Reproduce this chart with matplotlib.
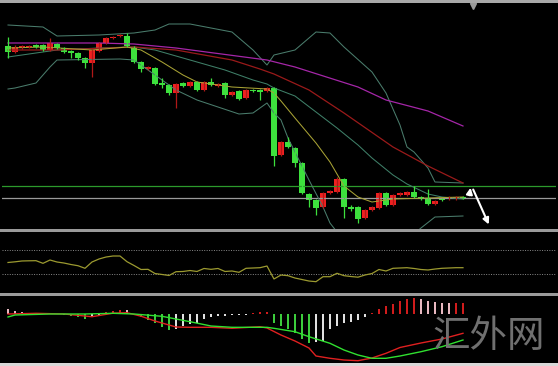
import numpy as np
import matplotlib
matplotlib.use("Agg")
import matplotlib.pyplot as plt

# candles (price in chart points, higher = up)
opens = [194, 188, 192, 193, 195, 195, 190, 196, 192, 189, 187, 182, 177, 189, 197, 202, 204, 204, 193, 178,
         171, 172, 157, 155, 147, 157, 154, 158, 150, 158, 154, 157, 145, 149, 142, 150, 150, 149, 152, 85,
         98, 92, 77, 46, 40, 33, 47, 48, 61, 33, 33, 22, 30, 32, 47, 35, 45, 45, 48, 43,
         42, 36, 41, 41, 41, 43]
highs = [203, 195, 195, 195, 196, 196, 202, 197, 193, 190, 188, 183, 191, 198, 203, 204, 206, 207, 194, 179,
         174, 173, 162, 156, 157, 158, 159, 159, 159, 162, 157, 158, 149, 150, 151, 151, 151, 153, 153, 99,
         103, 93, 78, 47, 41, 48, 50, 63, 62, 35, 34, 31, 34, 48, 48, 46, 48, 49, 54, 44,
         51, 40, 42, 44, 44, 44]
lows = [182, 187, 191, 192, 192, 189, 189, 191, 187, 182, 180, 172, 163, 188, 196, 201, 203, 193, 177, 168,
        170, 155, 152, 145, 132, 153, 153, 149, 149, 154, 153, 142, 144, 140, 141, 148, 140, 148, 74, 84,
        92, 73, 46, 33, 25, 32, 46, 47, 22, 29, 17, 21, 29, 31, 34, 34, 44, 44, 42, 40,
        35, 35, 39, 40, 40, 41]
closes = [188, 193, 194, 194, 193, 190, 197, 192, 188, 187, 182, 177, 190, 197, 202, 203, 205, 194, 178, 171,
          173, 156, 155, 147, 156, 154, 158, 150, 158, 155, 156, 145, 148, 141, 150, 149, 148, 152, 84, 98,
          93, 77, 47, 40, 32, 47, 49, 61, 33, 31, 21, 30, 33, 47, 35, 45, 47, 48, 43, 41,
          36, 39, 40, 43, 43, 42]

# bollinger bands and moving averages, read at some candles
bb_up_idx = [0, 5, 7, 13, 18, 21, 23, 26, 32, 35, 37, 38, 41, 44, 46, 48, 52, 54, 56, 57, 58, 60, 61, 65]
bb_up = [215, 213, 204, 205, 207, 210, 216, 216, 208, 190, 175, 185, 190, 208, 207, 193, 168, 147, 115, 93, 88, 72, 58, 57]
bb_lo_idx = [0, 1, 4, 6, 7, 16, 18, 24, 27, 33, 35, 37, 38, 39, 40, 43, 45, 46, 47, 50, 54, 58, 59, 61, 65]
bb_lo = [151, 152, 157, 173, 180, 181, 180, 150, 140, 126, 127, 137, 127, 120, 102, 60, 33, 17, 8, -5, -5, 6, 12, 23, 24]
bb_mid_idx = [0, 7, 13, 18, 21, 24, 27, 31, 35, 37, 38, 41, 44, 47, 50, 52, 55, 57, 60, 62, 65]
bb_mid = [183, 190, 192, 193, 190, 184, 178, 170, 160, 156, 152, 144, 128, 112, 95, 82, 65, 56, 46, 43, 41]
ma_fast_idx = [0, 5, 12, 17, 19, 22, 25, 27, 32, 37, 38, 39, 41, 44, 46, 48, 50, 52, 55, 60, 65]
ma_fast = [192, 193, 190, 193, 190, 178, 165, 158, 153, 151, 147, 139, 122, 97, 78, 54, 43, 38, 41, 42, 43]
ma_mid_idx = [0, 7, 18, 24, 32, 36, 38, 43, 48, 55, 60, 65]
ma_mid = [190, 190, 193, 190, 180, 171, 166, 150, 127, 93, 74, 57]
ma_slow_idx = [0, 13, 18, 24, 37, 41, 50, 54, 60, 65]
ma_slow = [197, 197, 196, 192, 180, 173, 153, 140, 129, 114]
level_green = 54.5
level_gray = 41.7

# rsi
rsi = [49.2, 50.3, 51.7, 52, 52.2, 47.8, 53.3, 50, 48.3, 45.8, 43.8, 39.5, 50, 55, 58.3, 60, 60, 50.5, 44.2, 37.5,
       37.8, 30.8, 29.2, 27.5, 33.8, 34.2, 35.8, 34.2, 39.2, 37.8, 39.2, 34.2, 35, 32.8, 39.5, 40, 40.5, 43.3, 21.7, 28.3,
       27.2, 23.3, 20.8, 18.3, 17.2, 25.5, 25.5, 31.2, 27.2, 25.8, 24.7, 28.3, 30.8, 37.5, 35, 39.5, 40, 40.5, 39.2, 37.5,
       36.7, 38.3, 39.5, 40, 40.5, 40.5]
rsi_levels = [30, 70]

# macd
macd_hist = [5, 3.5, 2.5, 1.5, 0.8, 0.5, 0.5, 0.3, -0.5, -2, -2.5, -5, -3, -0.5, 2, 3, 4.5, 4, 0.5, -2.5,
             -6, -9, -13, -16, -15, -12, -10, -9, -5, -3, -2, -1.5, -1.2, -1, -0.8, 1, 2, 2, -9, -12,
             -15, -19, -25, -29, -28, -27, -15, -12, -9, -7.5, -6, -2.5, 1, 5.5, 8, 10.5, 13, 15, 16, 15.5,
             13, 12.5, 11.5, 11, 11, 11]
macd_idx = [0, 4, 8, 12, 15, 17, 19, 21, 24, 26, 29, 32, 36, 37, 39, 41, 43, 44, 46, 48, 50, 52, 54, 56, 59, 62, 65]
macd_line = [0, 0.7, 0, -2.7, 0.8, 1.3, -2.2, -7, -13, -13.3, -13.3, -14.3, -12.7, -14, -21, -27, -34, -42,
             -44.3, -46, -46.7, -44, -39.3, -33.5, -29, -25, -19.3]
sig_idx = [0, 1, 6, 11, 15, 18, 22, 26, 29, 32, 37, 38, 41, 43, 46, 48, 50, 52, 54, 56, 59, 62, 65]
sig_line = [-3, -1, 0, 0, 0.7, 0, -2.3, -7.7, -12, -13.3, -13.3, -14.3, -17.7, -22.7, -29.3, -36, -41,
            -44.3, -44.3, -42, -37.7, -32.7, -26]

UP = "#ee2020"
DOWN = "#3de03d"
BAND = "#4a7c6c"

W, H = 558, 366
fig = plt.figure(figsize=(W / 100, H / 100), dpi=100, facecolor="black")


def frac(x0, y0, x1, y1):
    return [x0 / W, 1 - y1 / H, (x1 - x0) / W, (y1 - y0) / H]


ax = fig.add_axes(frac(2, 4, 556, 229))
ax_rsi = fig.add_axes(frac(2, 232, 556, 292))
ax_macd = fig.add_axes(frac(2, 296, 556, 362))
xlim = (-0.857, 78.29)
for a in (ax, ax_rsi, ax_macd):
    a.set_facecolor("black")
    a.set_xlim(*xlim)
    a.set_xticks([])
    a.set_yticks([])
    for s in a.spines.values():
        s.set_visible(False)

idx = np.arange(len(opens))
o = np.array(opens, float)
c = np.array(closes, float)

# main panel
ax.set_ylim(11, 236)
ax.axhline(level_green, color="#2c9a2c", lw=0.9)
ax.axhline(level_gray, color="#9a9a9a", lw=0.9)
ax.plot(bb_up_idx, bb_up, color=BAND, lw=0.75)
ax.plot(bb_lo_idx, bb_lo, color=BAND, lw=0.75)
ax.plot(bb_mid_idx, bb_mid, color="#3f7f68", lw=0.75)
ax.plot(ma_slow_idx, ma_slow, color="#a526a8", lw=0.9)
ax.plot(ma_mid_idx, ma_mid, color="#9a1a1a", lw=0.9)
ax.plot(ma_fast_idx, ma_fast, color="#a8a235", lw=0.75)

cols = [UP if cc >= oo else DOWN for oo, cc in zip(o, c)]
wick_cols = ["#b01818" if cc >= oo else DOWN for oo, cc in zip(o, c)]
ax.vlines(idx, lows, highs, colors=wick_cols, lw=0.9)
body = np.maximum(np.abs(c - o), 1.2)
ax.bar(idx, body, bottom=np.minimum(o, c), width=0.8, color=cols, linewidth=0)

# arrows after the last candle
ax.annotate("", xy=(66.15, 55), xytext=(65.85, 42),
            arrowprops=dict(arrowstyle="-|>", color="white", lw=1.5, mutation_scale=9))
ax.annotate("", xy=(68.85, 13), xytext=(66.3, 53),
            arrowprops=dict(arrowstyle="-|>", color="white", lw=1.5, mutation_scale=9))
ax.plot([66.4], [234], marker="v", color="#9a9a9a", ms=5, clip_on=False)

# rsi panel
ax_rsi.set_ylim(0, 100)
for lv in rsi_levels:
    ax_rsi.axhline(lv, color="#8a8a8a", lw=0.7, ls=(0, (1, 1.5)))
ax_rsi.plot(idx, rsi, color="#9c9a30", lw=0.9)

# macd panel
ax_macd.set_ylim(-48, 18)
hist = np.array(macd_hist)
prev = np.concatenate([[hist[0] + 1], hist[:-1]])
hcols = []
for h, p in zip(hist, prev):
    if h >= 0:
        hcols.append("#d01c1c" if h >= p else "#e8b8c0")
    else:
        hcols.append("#3ccc3c" if h < p else "#e0e0e0")
ax_macd.bar(idx, hist, width=0.28, color=hcols, linewidth=0)
ax_macd.plot(macd_idx, macd_line, color="#e02020", lw=1.0)
ax_macd.plot(sig_idx, sig_line, color="#30e030", lw=1.0)

# frame lines
for y0, y1, col in [(0, 2.5, "#a8a8a8"), (229, 231.5, "#9a9a9a"), (293, 295.5, "#9a9a9a"), (363, 366, "#d8d8d8")]:
    fig.patches.append(plt.Rectangle((0, 1 - y1 / H), 1, (y1 - y0) / H, transform=fig.transFigure,
                                     color=col, lw=0))

fig.text(489 / W, 1 - 336 / H, "汇外网", color="#707070", fontsize=27, ha="center", va="center",
         family=["Noto Sans CJK SC", "DejaVu Sans"], fontweight="light")

fig.savefig("out.png", dpi=100, facecolor="black")
